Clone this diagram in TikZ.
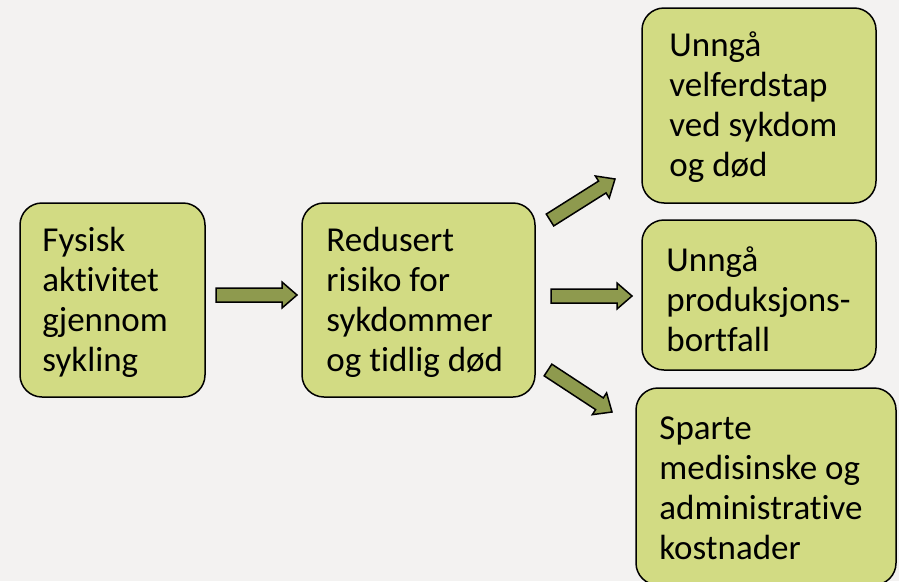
\documentclass[tikz,border=0pt]{standalone}
\usepackage{fontspec}
\setmainfont{Carlito}[Ligatures={NoCommon}]
\usetikzlibrary{calc}
\definecolor{bg}{HTML}{F3F2F1}
\definecolor{boxfill}{HTML}{D2DB83}
\definecolor{arrowfill}{HTML}{8E9A4E}
\tikzset{
  box/.style={draw=black, line width=1.5pt, fill=boxfill, rounded corners=22pt,
    inner sep=0pt},
  txt/.style={align=left, font=\fontsize{35}{40}\selectfont, inner sep=0pt, anchor=west},
  blockarrow/.style={draw=black, line width=1.5pt, fill=arrowfill, line join=miter,
    to path={let \p1=($(\tikztotarget)-(\tikztostart)$),
      \n1={atan2(\y1,\x1)}, \n2={veclen(\x1,\y1)} in
      ($(\tikztostart)+(\n1+90:7pt)$)
      -- ($(\tikztostart)+(\n1:{\n2-15pt})+(\n1+90:7pt)$)
      -- ($(\tikztostart)+(\n1:{\n2-15pt})+(\n1+90:13pt)$)
      -- (\tikztotarget)
      -- ($(\tikztostart)+(\n1:{\n2-15pt})+(\n1-90:13pt)$)
      -- ($(\tikztostart)+(\n1:{\n2-15pt})+(\n1-90:7pt)$)
      -- ($(\tikztostart)+(\n1-90:7pt)$) -- cycle}}
}
\begin{document}
\begin{tikzpicture}[x=1pt,y=-1pt]
\fill[bg] (0,0) rectangle (899,581);
\useasboundingbox (0,0) rectangle (899,581);
\node[box, minimum width=185pt, minimum height=194pt] (b1) at (112.5,300) {};
\node[box, minimum width=233pt, minimum height=194pt] (b2) at (418.5,300) {};
\node[box, minimum width=234pt, minimum height=195pt] (b3) at (759,105.5) {};
\node[box, minimum width=234pt, minimum height=150pt] (b4) at (759,295) {};
\node[box, minimum width=260pt, minimum height=197pt] (b5) at (766,486.5) {};
\node[txt] (t1) at ($(b1.west)+(23,2)$) {Fysisk\\aktivitet\\gjennom\\sykling};
\node[txt] (t2) at ($(b2.west)+(25,2)$) {Redusert\\risiko for\\sykdommer\\og tidlig død};
\node[txt] (t3) at ($(b3.west)+(28,2)$) {Unngå\\velferdstap\\ved sykdom\\og død};
\node[txt] (t4) at ($(b4.west)+(25,4)$) {Unngå\\produksjons-\\bortfall};
\node[txt] (t5) at ($(b5.west)+(24,2)$) {Sparte\\medisinske og\\administrative\\kostnader};
\coordinate (a1s) at (216,295);
\coordinate (a1e) at (297,295);
\coordinate (a2s) at (551,296);
\coordinate (a2e) at (632,296);
\coordinate (a3s) at (550,220);
\coordinate (a3e) at (615,179);
\coordinate (a4s) at (548,370);
\coordinate (a4e) at (612,412);
\draw[blockarrow] (a1s) to (a1e);
\draw[blockarrow] (a2s) to (a2e);
\draw[blockarrow] (a3s) to (a3e);
\draw[blockarrow] (a4s) to (a4e);
\end{tikzpicture}
\end{document}
